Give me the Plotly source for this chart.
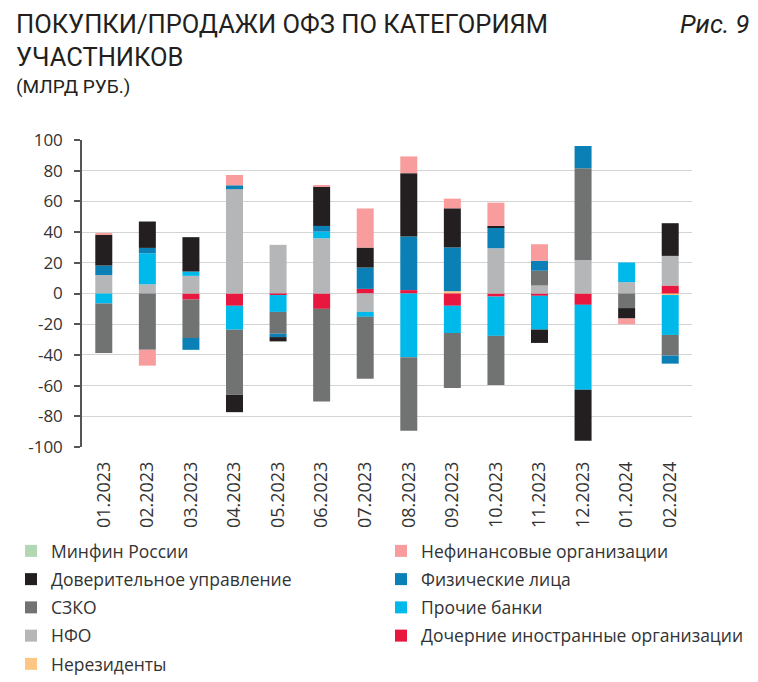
import plotly.graph_objects as go

months = ["01.2023", "02.2023", "03.2023", "04.2023", "05.2023", "06.2023", "07.2023",
          "08.2023", "09.2023", "10.2023", "11.2023", "12.2023", "01.2024", "02.2024"]

# values, bln rub
nonresidents = [0, 0, 0, 0, 0, 0, 0, 0, 1.5, 0, 0, 0, 0, -1]
foreign_subs = [0, 0, -4, -8, -1, -10, 3, 2.2, -8, -2, -1.5, -7.4, 0, 5.2]
nfo = [12, 6, 11.5, 68, 31.7, 36, -12, 0, 0, 29.5, 5.2, 21.9, 7.4, 19.3]
other_banks = [-6.5, 20.2, 2.8, -15.6, -11, 4.3, -3.2, -41.6, -17.8, -25.6, -22, -55.3, 12.8, -26]
szko = [-32.3, -36.7, -25, -42.4, -14.2, -60.3, -40.3, -47.8, -35.8, -32, 9.6, 59.7, -9.5, -13.4]
individuals = [6.2, 3.5, -7.7, 2.5, -2.2, 3.7, 13.9, 34.9, 28.5, 13.5, 6.5, 14.5, 0, -5.3]
trust_mgmt = [20, 17.2, 22.4, -11.3, -2.8, 25.6, 13, 41.3, 25.5, 1, -8.7, -33.2, -6.8, 21.3]
nonfin = [0.6, -10.3, 0, 6.7, 0, 0.6, 25.5, 10.9, 6.3, 15.2, 10.8, 0, -3.7, 0]
minfin = [0] * 14

y_ticks = [100, 80, 60, 40, 20, 0, -20, -40, -60, -80, -100]
y_tick_labels = ["100", "80", "60", "40", "20", "0", "-20", "-40", "-60", "-80", "-100"]

# (name, values, colour, legend, rank) in stacking order
series = [
    ("Нерезиденты", nonresidents, "#fdc684", "legend", 5),
    ("Дочерние иностранные организации", foreign_subs, "#e8173f", "legend2", 4),
    ("НФО", nfo, "#b5b6b8", "legend", 4),
    ("Прочие банки", other_banks, "#00b9eb", "legend2", 3),
    ("СЗКО", szko, "#717372", "legend", 3),
    ("Физические лица", individuals, "#0b80b6", "legend2", 2),
    ("Доверительное управление", trust_mgmt, "#231f20", "legend", 2),
    ("Нефинансовые организации", nonfin, "#f89c9d", "legend2", 1),
    ("Минфин России", minfin, "#b3d6b4", "legend", 1),
]

fig = go.Figure()
for name, vals, color, leg, rank in series:
    fig.add_trace(go.Bar(
        x=months, y=vals, name=name, marker_color=color, marker_line_width=0,
        legend=leg, legendrank=rank, legendgroup=name,
    ))

ytick_font = dict(family="Open Sans, Arial, sans-serif", size=17, color="#333333")
xtick_font = dict(family="Open Sans, Arial, sans-serif", size=18, color="#333333")
legend_font = dict(family="Open Sans, Arial, sans-serif", size=17.5, color="#333333")
title_font = "Roboto, Arial, sans-serif"

# plot area: 74..684 px across, 132..439 px down
def px_x(px):
    return (px - 74) / 610

def px_y(px):
    return 1 - (px - 132) / 307

fig.update_layout(
    width=750, height=674,
    margin=dict(l=74, r=66, t=132, b=235, autoexpand=False),
    paper_bgcolor="white", plot_bgcolor="white",
    barmode="relative", bargap=0.61,
    xaxis=dict(
        type="category", showgrid=False, showline=False, ticks="",
        tickangle=-90, tickfont=xtick_font, ticklabelstandoff=10,
    ),
    xaxis2=dict(
        overlaying="x", anchor="free", position=0.5, range=[-0.5, 13.5],
        tickvals=[i + 0.5 for i in range(14)], showticklabels=False,
        ticks="outside", ticklen=5, tickcolor="#555555", tickwidth=1.5,
        showline=True, linecolor="#555555", linewidth=1.5, showgrid=False, zeroline=False,
    ),
    yaxis=dict(
        range=[-100, 100], tickvals=y_ticks, ticktext=y_tick_labels,
        showgrid=True, gridcolor="#d4d4d4", gridwidth=1.3,
        zeroline=False, showline=True, linecolor="#555555", linewidth=1.5,
        ticks="outside", ticklen=6, tickcolor="#555555", tickwidth=1.5,
        tickfont=ytick_font, ticklabelstandoff=8,
    ),
    legend=dict(
        x=px_x(3), xanchor="left", y=px_y(525), yanchor="top",
        orientation="v", font=legend_font, tracegroupgap=2.5, bgcolor="rgba(0,0,0,0)",
    ),
    legend2=dict(
        x=px_x(373), xanchor="left", y=px_y(525), yanchor="top",
        orientation="v", font=legend_font, tracegroupgap=2.5, bgcolor="rgba(0,0,0,0)",
    ),
    annotations=[
        dict(text="ПОКУПКИ/ПРОДАЖИ ОФЗ ПО КАТЕГОРИЯМ", xref="paper", yref="paper",
             x=px_x(6), xanchor="left", y=px_y(16), yanchor="middle", showarrow=False,
             font=dict(family=title_font, size=25.5, color="#231f20")),
        dict(text="УЧАСТНИКОВ", xref="paper", yref="paper",
             x=px_x(6), xanchor="left", y=px_y(49), yanchor="middle", showarrow=False,
             font=dict(family=title_font, size=25.5, color="#231f20")),
        dict(text="(МЛРД РУБ.)", xref="paper", yref="paper",
             x=px_x(6), xanchor="left", y=px_y(79), yanchor="middle", showarrow=False,
             font=dict(family=title_font, size=19, color="#231f20")),
        dict(text="<i>Рис. 9</i>", xref="paper", yref="paper",
             x=px_x(744), xanchor="right", y=px_y(16), yanchor="middle", showarrow=False,
             font=dict(family=title_font, size=25.5, color="#231f20")),
    ],
)

fig.write_html("out.html")
